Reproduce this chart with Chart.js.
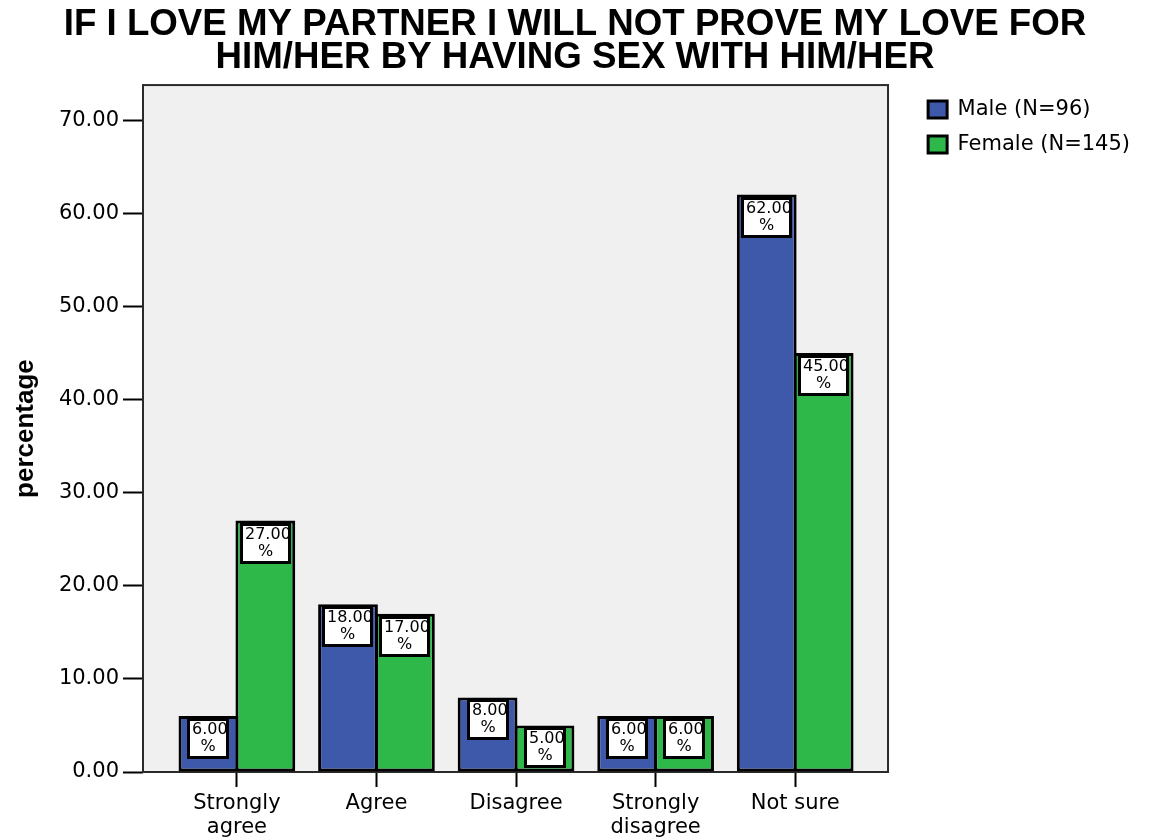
<!DOCTYPE html>
<html>
<head>
<meta charset="utf-8">
<script src="https://cdn.jsdelivr.net/npm/chart.js@4.4.1/dist/chart.umd.min.js"></script>
<style>
  html, body { margin: 0; padding: 0; background: #ffffff; }
  #wrap { width: 1149px; height: 838px; }
</style>
</head>
<body>
<div id="wrap"><canvas id="chart" width="1149" height="838"></canvas></div>
<script>
// Survey responses, percent of each group
const categories = ['Strongly agree', 'Agree', 'Disagree', 'Strongly disagree', 'Not sure'];
const maleValues = [6, 18, 8, 6, 62];
const femaleValues = [27, 17, 5, 6, 45];
const seriesNames = ['Male (N=96)', 'Female (N=145)'];
const yTicks = [0, 10, 20, 30, 40, 50, 60, 70];
const titleLines = ['IF I LOVE MY PARTNER I WILL NOT PROVE MY LOVE FOR', 'HIM/HER BY HAVING SEX WITH HIM/HER'];

// Axis ranges (x is a numeric index axis so the side margins can be set freely)
const X_MIN = -0.6726;
const X_MAX = 4.852;
const FRAME_END = 4.665;
const Y_MAX = 73.76;

const SANS = '"DejaVu Sans", sans-serif';
const ARIAL = '"Liberation Sans", Arial, sans-serif';

function wrapLabel(text) {
  return (text.length > 10 && text.includes(' ')) ? text.split(' ') : text;
}

// Grey plotting panel with dark frame
const plotFrame = {
  id: 'plotFrame',
  beforeDatasetsDraw(chart) {
    const { ctx, chartArea: a, scales: { x } } = chart;
    const right = x.getPixelForValue(FRAME_END);
    ctx.save();
    ctx.fillStyle = '#f0f0f0';
    ctx.fillRect(a.left, a.top, right - a.left, a.bottom - a.top);
    ctx.strokeStyle = '#2a2a2a';
    ctx.lineWidth = 2;
    ctx.strokeRect(a.left, a.top, right - a.left, a.bottom - a.top);
    ctx.restore();
  }
};

// White value boxes inside the top of each bar
const valueBoxes = {
  id: 'valueBoxes',
  afterDatasetsDraw(chart) {
    const ctx = chart.ctx;
    chart.data.datasets.forEach((ds, di) => {
      const meta = chart.getDatasetMeta(di);
      meta.data.forEach((bar, i) => {
        const txt = ds.data[i].y.toFixed(2);
        ctx.save();
        ctx.font = '15px ' + ARIAL;
        const w = Math.round(ctx.measureText(txt).width + 13);
        const h = 41;
        const left = Math.round(bar.x - w / 2);
        const top = Math.round(bar.y + 2);
        ctx.fillStyle = '#ffffff';
        ctx.fillRect(left, top, w, h);
        ctx.lineWidth = 3;
        ctx.strokeStyle = '#000000';
        ctx.strokeRect(left + 1.5, top + 1.5, w - 3, h - 3);
        ctx.beginPath();
        ctx.rect(left + 3, top + 3, w - 6, h - 6);
        ctx.clip();
        ctx.fillStyle = '#000000';
        ctx.font = '16px ' + SANS;
        ctx.textBaseline = 'middle';
        ctx.textAlign = 'left';
        ctx.fillText(txt, left + 5, top + 12);
        ctx.textAlign = 'center';
        ctx.fillText('%', left + w / 2, top + 29);
        ctx.restore();
      });
    });
  }
};

const barStyle = {
  borderColor: '#000000',
  borderWidth: 3,
  borderSkipped: false,
  categoryPercentage: 0.8157,
  barPercentage: 1.05
};

new Chart(document.getElementById('chart'), {
  type: 'bar',
  data: {
    datasets: [
      Object.assign({
        label: seriesNames[0],
        data: maleValues.map((v, i) => ({ x: i, y: v })),
        backgroundColor: '#3e58aa'
      }, barStyle),
      Object.assign({
        label: seriesNames[1],
        data: femaleValues.map((v, i) => ({ x: i, y: v })),
        backgroundColor: '#2fb84a'
      }, barStyle)
    ]
  },
  options: {
    responsive: false,
    animation: false,
    layout: { padding: { left: 10, right: 9, top: 0, bottom: 0 } },
    plugins: {
      title: {
        display: true,
        text: titleLines,
        color: '#000000',
        font: { family: ARIAL, size: 36.7, weight: 'bold', lineHeight: 0.9 },
        padding: { top: 8, bottom: 11 }
      },
      legend: {
        position: 'right',
        align: 'start',
        fullSize: false,
        labels: {
          boxWidth: 19,
          boxHeight: 17,
          padding: 14,
          color: '#000000',
          font: { family: SANS, size: 21 }
        }
      },
      tooltip: { enabled: false }
    },
    scales: {
      x: {
        type: 'linear',
        min: X_MIN,
        max: X_MAX,
        offset: false,
        afterBuildTicks: s => { s.ticks = categories.map((_, i) => ({ value: i })); },
        afterFit: s => { s.height = 66; },
        ticks: {
          callback: v => wrapLabel(categories[v]),
          color: '#000000',
          font: { family: SANS, size: 21, lineHeight: 1.15 },
          padding: 4,
          maxRotation: 0,
          autoSkip: false
        },
        grid: { offset: false, drawOnChartArea: false, drawTicks: true, tickLength: 15, tickWidth: 2, tickColor: '#000000' },
        border: { display: false }
      },
      y: {
        min: 0,
        max: Y_MAX,
        afterBuildTicks: s => { s.ticks = yTicks.map(v => ({ value: v })); },
        afterFit: s => { s.width = 133; },
        ticks: {
          callback: v => Number(v).toFixed(2),
          color: '#000000',
          font: { family: SANS, size: 21 },
          padding: 4
        },
        grid: { drawOnChartArea: false, drawTicks: true, tickLength: 20, tickWidth: 2, tickColor: '#000000' },
        border: { display: false },
        title: {
          display: true,
          text: 'percentage',
          color: '#000000',
          font: { family: ARIAL, size: 26, weight: 'bold', lineHeight: 1 },
          padding: { top: 3, bottom: 0 }
        }
      }
    }
  },
  plugins: [plotFrame, valueBoxes]
});
</script>
</body>
</html>
